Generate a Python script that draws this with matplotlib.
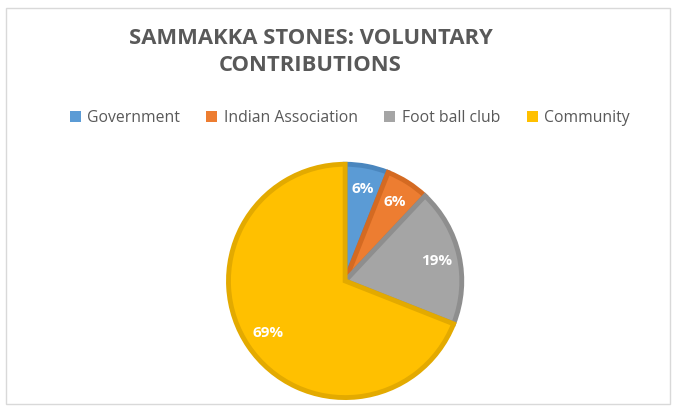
import matplotlib.pyplot as plt
from matplotlib.patches import Rectangle

# Data
labels = ['Government', 'Indian Association', 'Foot ball club', 'Community']
values = [6, 6, 19, 69]
colors = ['#5B9BD5', '#ED7D31', '#A5A5A5', '#FFC000']
edges = ['#4A86BE', '#D46A22', '#8E8E8E', '#E3AA00']

plt.rcParams['font.family'] = ['Open Sans', 'DejaVu Sans']

fig = plt.figure(figsize=(6.75, 4.11), dpi=100)
fig.patch.set_facecolor('white')

# chart frame
fig.patches.append(Rectangle((6 / 675, 7 / 411), 664 / 675, 396 / 411,
                             transform=fig.transFigure, fill=False,
                             edgecolor='#D9D9D9', linewidth=1))

ax = fig.add_axes([0.335, 0.027, 0.3526, 0.579])
wedges, texts, autotexts = ax.pie(
    values, colors=colors, startangle=90, counterclock=False,
    autopct='%1.0f%%', pctdistance=0.8,
    wedgeprops=dict(linewidth=0), textprops=dict(color='white', fontsize=11, fontweight='bold'))
for w, ec in zip(wedges, edges):
    w.set_edgecolor(ec)
    w.set_linewidth(3.5)
ax.set_xlim(-1.02, 1.02)
ax.set_ylim(-1.02, 1.02)
ax.set_aspect('equal')

fig.text(0.46, 0.873, 'SAMMAKKA STONES: VOLUNTARY\nCONTRIBUTIONS', ha='center', va='center',
         fontsize=15.8, fontweight='bold', color='#595959', linespacing=1.35)

handles = [Rectangle((0, 0), 1, 1, facecolor=c) for c in colors]
fig.legend(handles, labels, loc='center', bbox_to_anchor=(0.518, 0.713), ncol=4,
           frameon=False, fontsize=11.3, labelcolor='#595959', handlelength=0.7,
           handleheight=0.7, handletextpad=0.4, columnspacing=1.7)

plt.savefig('out.png', dpi=100)
